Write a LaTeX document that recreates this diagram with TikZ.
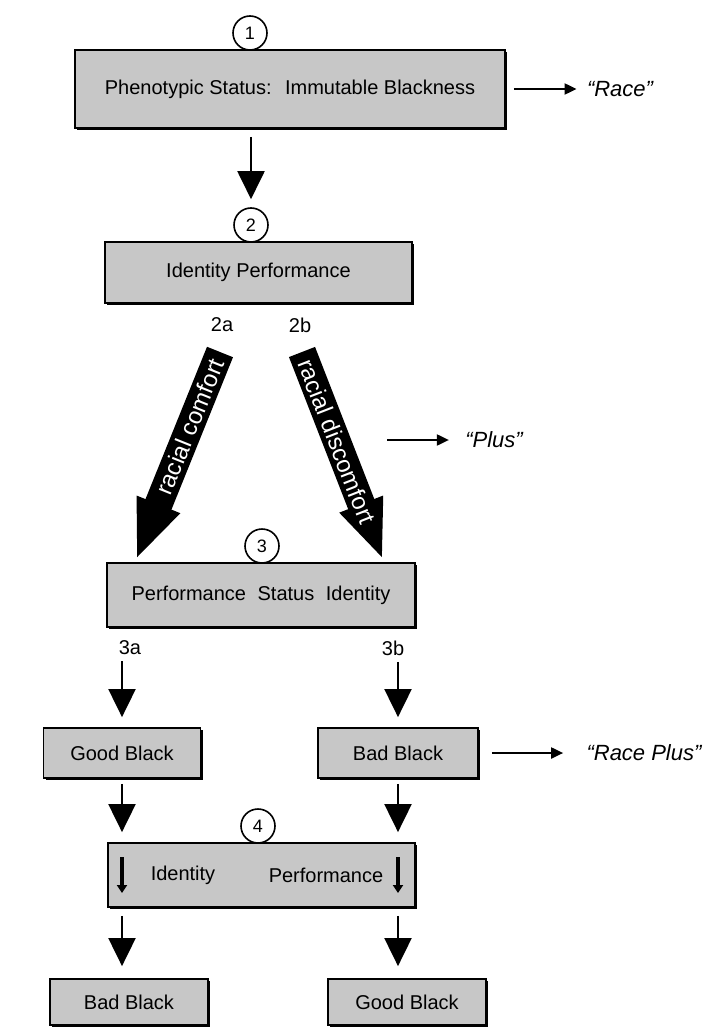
\documentclass[tikz,border=0pt]{standalone}
\usepackage{fontspec}
\setmainfont{Liberation Sans}
\usetikzlibrary{arrows.meta,shadows}
\tikzstyle{stat}=[draw=black,line width=0.9pt,fill=black!22,text=black,inner sep=0pt,
                font=\fontsize{10}{12}\selectfont,
                drop shadow={shadow xshift=1.1pt,shadow yshift=-1.1pt,fill=black,opacity=1}]
\tikzstyle{num}=[circle,draw=black,line width=0.8pt,fill=white,minimum size=17pt,
                inner sep=0pt,font=\fontsize{9}{10}\selectfont]
\tikzstyle{flow}=[-{Triangle[length=14pt,width=13.5pt]},line width=1pt,draw=black]
\tikzstyle{lead}=[-{Triangle[length=6pt,width=5.5pt]},line width=1pt,draw=black]
\tikzstyle{fat}=[-{Triangle[length=30pt,width=21pt]},line width=14pt,draw=black]
\tikzstyle{tick}=[-{Triangle[length=4pt,width=5pt]},line width=2pt,draw=black]
\tikzstyle{quote}=[inner sep=0pt,font=\fontsize{11}{13}\selectfont\itshape]
\tikzstyle{tag}=[inner sep=1pt,font=\fontsize{10}{12}\selectfont]
\tikzstyle{onfat}=[inner sep=0pt,text=white,font=\fontsize{12}{14}\selectfont]

\begin{document}
\begin{tikzpicture}[x=0.5pt,y=-0.5pt]
    \useasboundingbox (0,0) rectangle (706,1027);

    % Draw the status boxes
    \node[stat,minimum width=215pt,minimum height=39pt] (box1) at (290,89)
        {Phenotypic Status:\hspace{0.3em} Immutable Blackness};
    \node[stat,minimum width=153.5pt,minimum height=30.5pt] (box2) at (258.5,272.5)
        {Identity Performance};
    \node[stat,minimum width=154pt,minimum height=32pt] (box3) at (261,595)
        {Performance\hspace{0.3em} Status\hspace{0.3em} Identity};
    \node[stat,minimum width=78.5pt,minimum height=25pt] (gb1) at (122,753) {Good Black};
    \node[stat,minimum width=80pt,minimum height=25pt] (bb1) at (398,753) {Bad Black};
    \node[stat,minimum width=153.5pt,minimum height=32pt] (box4) at (261.5,875) {};
    \node[stat,minimum width=79pt,minimum height=23pt] (bb2) at (129,1002) {Bad Black};
    \node[stat,minimum width=79pt,minimum height=23pt] (gb2) at (407,1002) {Good Black};

    % texts of the last box
    \node[tag] (id4) at (183,875) {Identity};
    \node[tag] (pf4) at (326,875) {Performance};

    % numbered steps
    \node[num] (n1) at (250,33) {1};
    \node[num] (n2) at (251,225) {2};
    \node[num] (n3) at (262,546) {3};
    \node[num] (n4) at (258,826) {4};

    % branch labels
    \node[tag] (t2a) at (222,325) {2a};
    \node[tag] (t2b) at (300,325) {2b};
    \node[tag] (t3a) at (130,648) {3a};
    \node[tag] (t3b) at (393,648) {3b};

    % outcomes on the right
    \node[quote] (race) at (620,89) {“Race”};
    \node[quote] (plus) at (494,440) {“Plus”};
    \node[quote] (rplus) at (644,753) {“Race Plus”};

    % ends of the free arrows
    \coordinate (a2a) at (220,352);
    \coordinate (h2a) at (136,560);
    \coordinate (a2b) at (302,352);
    \coordinate (h2b) at (383,560);
    \coordinate (p0) at (387,440);
    \coordinate (ia) at (122,857);
    \coordinate (ib) at (122,893);
    \coordinate (pa) at (398,857);
    \coordinate (pb) at (398,893);

    % connect the steps
    \draw[flow,shorten <=4pt,shorten >=4pt] (box1.south -| n2) -- (n2.north);
    \draw[fat] (a2a) -- (h2a)
        node[pos=0.36,sloped,onfat] (rc) {racial comfort};
    \draw[fat] (a2b) -- (h2b)
        node[pos=0.43,sloped,onfat] (rd) {racial discomfort};
    \draw[flow,shorten <=2pt,shorten >=5pt] (gb1.north |- t3a.south) -- (gb1.north);
    \draw[flow,shorten <=2pt,shorten >=5pt] (bb1.north |- t3b.south) -- (bb1.north);
    \draw[flow,shorten <=2.5pt,shorten >=5pt] (gb1.south) -- (gb1.south |- box4.north);
    \draw[flow,shorten <=2.5pt,shorten >=5pt] (bb1.south) -- (bb1.south |- box4.north);
    \draw[flow,shorten <=4pt,shorten >=6pt] (box4.south -| gb1) -- (bb2.north -| gb1);
    \draw[flow,shorten <=4pt,shorten >=6pt] (box4.south -| bb1) -- (gb2.north -| bb1);

    % small arrows in the last box
    \draw[tick] (ia) -- (ib);
    \draw[tick] (pa) -- (pb);

    % lead to the outcomes
    \draw[lead,shorten <=4pt,shorten >=5pt] (box1.east) -- (race.west);
    \draw[lead,shorten >=8pt] (p0) -- (plus.west);
    \draw[lead,shorten <=6.5pt,shorten >=11.5pt] (bb1.east) -- (rplus.west);
\end{tikzpicture}
\end{document}
